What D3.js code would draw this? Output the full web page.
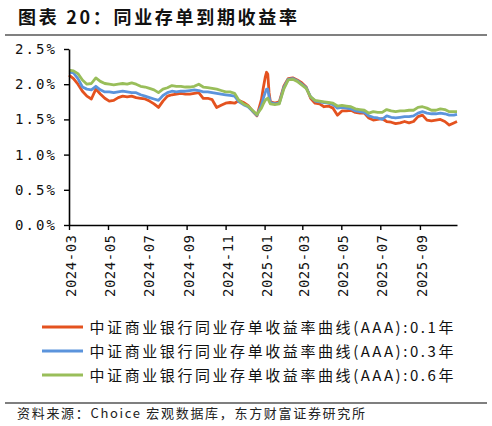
<!DOCTYPE html>
<html>
<head>
<meta charset="utf-8">
<script src="https://cdn.jsdelivr.net/npm/d3@7"></script>
<style>
  body { margin: 0; background: #fff; }
  svg { display: block; }
</style>
</head>
<body>
<script>
// sample dates (roughly weekly, denser around the January spike)
const dates = [
  "2024-03-01","2024-03-08","2024-03-15","2024-03-22","2024-03-29",
  "2024-04-05","2024-04-12","2024-04-19","2024-04-26",
  "2024-05-03","2024-05-10","2024-05-17","2024-05-24","2024-05-31",
  "2024-06-07","2024-06-14","2024-06-21","2024-06-28",
  "2024-07-05","2024-07-12","2024-07-19","2024-07-26",
  "2024-08-02","2024-08-09","2024-08-16","2024-08-23","2024-08-30",
  "2024-09-06","2024-09-13","2024-09-20","2024-09-27",
  "2024-10-04","2024-10-11","2024-10-18","2024-10-25",
  "2024-11-01","2024-11-08","2024-11-15","2024-11-22","2024-11-29",
  "2024-12-06","2024-12-13","2024-12-20","2024-12-27","2024-12-30",
  "2025-01-02","2025-01-04","2025-01-06","2025-01-08","2025-01-10","2025-01-17","2025-01-24","2025-01-31",
  "2025-02-07","2025-02-14","2025-02-21","2025-02-28",
  "2025-03-07","2025-03-14","2025-03-21","2025-03-28",
  "2025-04-04","2025-04-11","2025-04-18","2025-04-25",
  "2025-05-02","2025-05-09","2025-05-16","2025-05-23","2025-05-30",
  "2025-06-06","2025-06-13","2025-06-20","2025-06-27",
  "2025-07-04","2025-07-11","2025-07-18","2025-07-25",
  "2025-08-01","2025-08-08","2025-08-15","2025-08-22","2025-08-29",
  "2025-09-05","2025-09-12","2025-09-19","2025-09-26",
  "2025-10-03","2025-10-10","2025-10-17","2025-10-24","2025-10-29"
];

// 0.1Y
const y01 = [
  2.13,2.08,2.00,1.90,1.83, 1.79,1.93,1.86,1.80, 1.76,1.77,1.81,1.83,1.82,
  1.83,1.81,1.80,1.79, 1.76,1.72,1.67,1.76, 1.83,1.85,1.86,1.87,1.86,
  1.86,1.87,1.88,1.80, 1.80,1.78,1.67,1.70, 1.73,1.74,1.73,1.77,1.74,
  1.70,1.62,1.55,1.78,1.95,
  2.10,2.17,2.14,1.88,1.75,1.73,1.75,1.97,
  2.08,2.09,2.06,2.02, 1.96,1.80,1.73,1.72, 1.68,1.69,1.66,1.56,
  1.62,1.62,1.63,1.60,1.59, 1.59,1.52,1.49,1.50, 1.51,1.47,1.46,1.44,
  1.45,1.47,1.45,1.47,1.54, 1.56,1.49,1.48,1.49, 1.50,1.47,1.42,1.45,1.47
];
// 0.3Y
const y03 = [
  2.17,2.16,2.08,1.96,1.93, 1.92,1.97,1.92,1.89, 1.89,1.88,1.89,1.90,1.89,
  1.88,1.88,1.85,1.83, 1.81,1.79,1.77,1.84, 1.88,1.90,1.89,1.90,1.90,
  1.91,1.92,1.91,1.89, 1.89,1.88,1.87,1.86, 1.85,1.84,1.83,1.75,1.71,
  1.68,1.62,1.56,1.70,1.80,
  1.88,1.93,1.93,1.82,1.74,1.72,1.73,1.95,
  2.07,2.08,2.05,2.00, 1.95,1.82,1.76,1.75, 1.74,1.73,1.71,1.66,
  1.67,1.66,1.65,1.62,1.61, 1.60,1.55,1.53,1.52, 1.50,1.55,1.53,1.52,
  1.53,1.54,1.54,1.55,1.59, 1.61,1.59,1.58,1.58, 1.59,1.58,1.56,1.56,1.57
];
// 0.6Y
const y06 = [
  2.20,2.19,2.15,2.06,2.00, 2.01,2.09,2.04,2.01, 2.00,1.99,2.00,2.01,2.00,
  2.02,2.00,1.97,1.96, 1.94,1.92,1.88,1.93, 1.95,1.98,1.97,1.97,1.96,
  1.96,1.97,2.00,1.96, 1.95,1.94,1.93,1.91, 1.89,1.89,1.87,1.77,1.72,
  1.69,1.63,1.57,1.66,1.72,
  1.77,1.79,1.80,1.76,1.72,1.71,1.72,1.93,
  2.06,2.07,2.04,1.99, 1.94,1.82,1.77,1.76, 1.75,1.74,1.73,1.69,
  1.70,1.69,1.68,1.65,1.64, 1.63,1.59,1.61,1.60, 1.60,1.64,1.62,1.61,
  1.62,1.62,1.63,1.63,1.67, 1.68,1.66,1.63,1.63, 1.65,1.64,1.61,1.61,1.61
];

const xTickLabels = ["2024-03","2024-05","2024-07","2024-09","2024-11",
                     "2025-01","2025-03","2025-05","2025-07","2025-09"];
const yTicks = [0, 0.5, 1.0, 1.5, 2.0, 2.5];

const seriesNames = [
  "中证商业银行同业存单收益率曲线(AAA):0.1年",
  "中证商业银行同业存单收益率曲线(AAA):0.3年",
  "中证商业银行同业存单收益率曲线(AAA):0.6年"
];
const colors = ["#e4521f", "#5b94dc", "#99be5a"];

const w = 492, h = 426;
const plotLeft = 69, plotRight = 457, plotTop = 49, plotBottom = 225;
const parse = d3.timeParse("%Y-%m-%d");
const parseMonth = d3.timeParse("%Y-%m");
const dateObjs = dates.map(parse);

const svg = d3.select("body").append("svg")
    .attr("width", w)
    .attr("height", h);

// title
svg.append("text")
    .attr("x", 18)
    .attr("y", 24)
    .attr("font-family", "'Noto Sans CJK SC', sans-serif")
    .attr("font-weight", "bold")
    .attr("font-size", 18)
    .attr("textLength", 279)
    .attr("lengthAdjust", "spacing")
    .attr("fill", "#111")
    .text("图表 20：同业存单到期收益率");

svg.append("line")
    .attr("x1", 5).attr("x2", 487)
    .attr("y1", 35).attr("y2", 35)
    .attr("stroke", "#808080")
    .attr("stroke-width", 2);

const xScale = d3.scaleTime()
    .domain([parse("2024-03-01"), parse("2025-10-29")])
    .range([plotLeft, plotRight]);
const yScale = d3.scaleLinear()
    .domain([0, 2.5])
    .range([plotBottom, plotTop]);

// lines, red first so green ends up on top
const line = d3.line()
    .x((d, i) => xScale(dateObjs[i]))
    .y(d => yScale(d));

[y01, y03, y06].forEach((vals, i) => {
    svg.append("path")
        .datum(vals)
        .attr("fill", "none")
        .attr("stroke", colors[i])
        .attr("stroke-width", 2.8)
        .attr("stroke-linejoin", "round")
        .attr("d", line);
});

// y axis
const yAxis = svg.append("g")
    .attr("transform", "translate(" + plotLeft + ",0)")
    .call(d3.axisLeft(yScale)
        .tickValues(yTicks)
        .tickSize(5)
        .tickSizeOuter(0)
        .tickPadding(9)
        .tickFormat(d => d3.format(".1f")(d) + "%"));

// x axis
const xAxis = svg.append("g")
    .attr("transform", "translate(0," + plotBottom + ")")
    .call(d3.axisBottom(xScale)
        .tickValues(xTickLabels.map(parseMonth))
        .tickSize(5)
        .tickSizeOuter(0)
        .tickFormat(d3.timeFormat("%Y-%m")));

[xAxis, yAxis].forEach(g => {
    g.select(".domain").attr("stroke", "#000").attr("stroke-width", 1.6);
    g.selectAll(".tick line").attr("stroke", "#000").attr("stroke-width", 1.4);
    g.selectAll("text")
        .attr("fill", "#111")
        .attr("font-family", "'DejaVu Sans Mono', monospace")
        .attr("font-size", 14);
});
yAxis.selectAll("text").attr("textLength", 40).attr("lengthAdjust", "spacing");

xAxis.selectAll("text")
    .attr("transform", "rotate(-90)")
    .attr("text-anchor", "end")
    .attr("x", -10)
    .attr("y", 1.5)
    .attr("dy", "0.35em")
    .attr("textLength", 62)
    .attr("lengthAdjust", "spacing");

// legend
const legendY = [327, 351, 375];
seriesNames.forEach((name, i) => {
    svg.append("line")
        .attr("x1", 42).attr("x2", 83)
        .attr("y1", legendY[i]).attr("y2", legendY[i])
        .attr("stroke", colors[i])
        .attr("stroke-width", 3);
    svg.append("text")
        .attr("x", 89.5)
        .attr("y", legendY[i] + 5.5)
        .attr("font-family", "'Noto Sans CJK SC', sans-serif")
        .attr("font-size", 15)
        .attr("textLength", 364)
        .attr("lengthAdjust", "spacing")
        .attr("fill", "#111")
        .text(name);
});

// source
svg.append("line")
    .attr("x1", 5).attr("x2", 487)
    .attr("y1", 403).attr("y2", 403)
    .attr("stroke", "#555")
    .attr("stroke-width", 1.5);

svg.append("text")
    .attr("x", 17)
    .attr("y", 418)
    .attr("font-family", "'Noto Sans CJK SC', sans-serif")
    .attr("font-size", 13)
    .attr("textLength", 348)
    .attr("lengthAdjust", "spacing")
    .attr("fill", "#222")
    .text("资料来源：Choice 宏观数据库，东方财富证券研究所");
</script>
</body>
</html>
